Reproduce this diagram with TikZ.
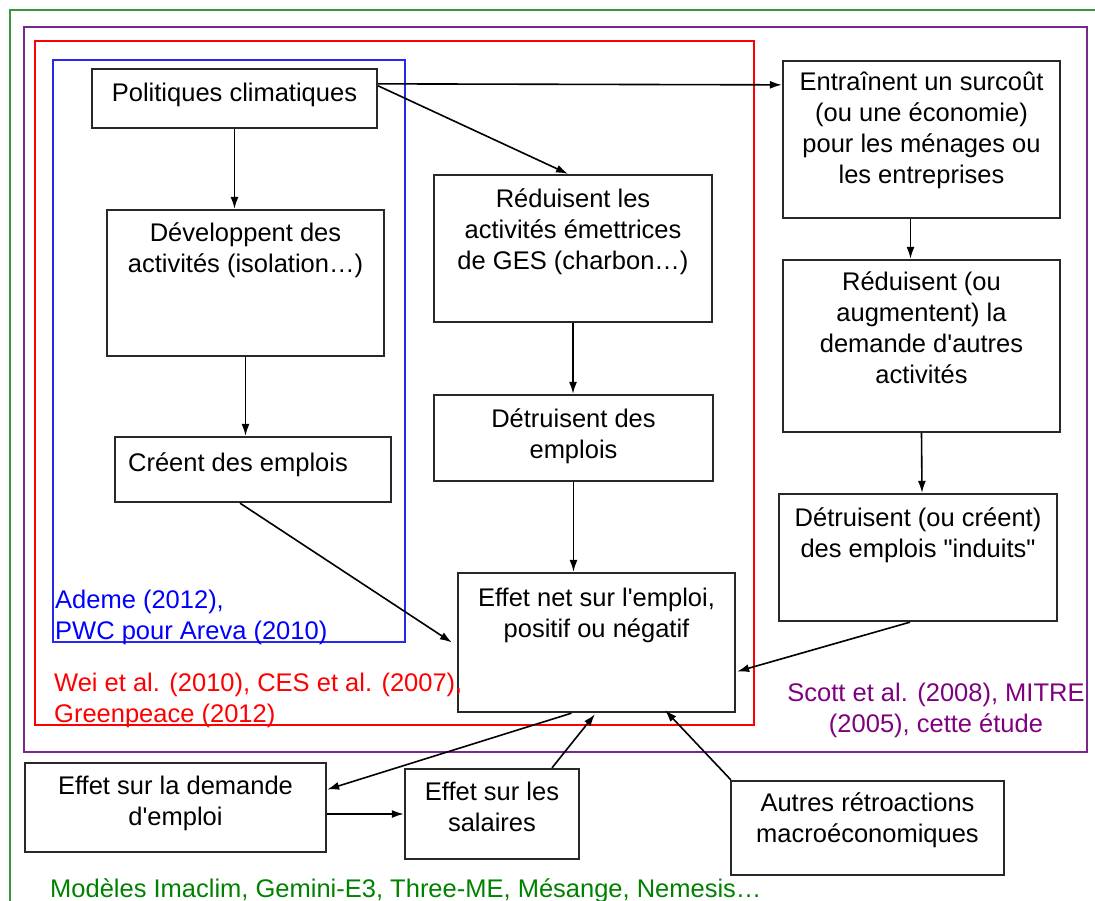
\documentclass[tikz,border=0pt]{standalone}
\usepackage{fontspec}
\setmainfont{Liberation Sans}
\usetikzlibrary{calc,arrows.meta}
\definecolor{cadre}{RGB}{40,40,40}
\definecolor{vertcadre}{RGB}{60,150,60}
\definecolor{verttexte}{RGB}{0,130,0}
\definecolor{violetcadre}{RGB}{120,40,140}
\definecolor{violettexte}{RGB}{128,0,128}
\definecolor{bleucadre}{RGB}{40,40,240}

\tikzset{
  boite/.style={draw=cadre, line width=2.3pt, inner sep=0pt},
  txt/.style={font=\fontsize{25.5}{31}\selectfont, align=center, anchor=north, inner sep=0pt,
    execute at begin node={\rule{0pt}{23pt}}},
  legende/.style={txt, anchor=north west, align=left},
  fl/.style={-{Latex[length=12pt,width=8pt]}, line width=1.6pt}
}

\begin{document}
\begin{tikzpicture}[x=1pt,y=-1pt]
		\useasboundingbox (0,0) rectangle (1095,900);
		\clip (0,0) rectangle (1095,900);
		% cadres
		\draw[vertcadre, line width=1.8pt] (10,10) rectangle (1120,930);
		\draw[violetcadre, line width=1.8pt] (24,27) rectangle (1087,752);
		\draw[red, line width=1.8pt] (35,41) rectangle (754,725);
		\draw[bleucadre, line width=1.8pt] (53,60) rectangle (405,642);
		% boites
		\node[boite, minimum width=285, minimum height=59] (pol) at (234.5,98.5) {};
		\node[boite, minimum width=277, minimum height=146] (dev) at (245.5,283) {};
		\node[boite, minimum width=276, minimum height=65] (cre) at (253,469.5) {};
		\node[boite, minimum width=278, minimum height=147] (red) at (573,248.5) {};
		\node[boite, minimum width=279, minimum height=86] (det) at (573.5,438) {};
		\node[boite, minimum width=277, minimum height=139] (net) at (596.5,642.5) {};
		\node[boite, minimum width=277, minimum height=157] (ent) at (921.5,139.5) {};
		\node[boite, minimum width=277, minimum height=172] (dem) at (921.5,346) {};
		\node[boite, minimum width=278, minimum height=127] (ind) at (918,557.5) {};
		\node[boite, minimum width=301, minimum height=89] (emp) at (175.5,807.5) {};
		\node[boite, minimum width=174, minimum height=90] (sal) at (492,814) {};
		\node[boite, minimum width=273, minimum height=94] (aut) at (867.5,828) {};
		% textes
		\node[txt] (polt) at (234.5,78) {Politiques climatiques};
		\node[txt] (devt) at (245.5,223) {Développent des\\activités (isolation…)};
		\node[txt] (cret) at (238,448) {Créent des emplois};
		\node[txt] (redt) at (573,189) {Réduisent les\\activités émettrices\\de GES (charbon…)};
		\node[txt] (dett) at (573.5,409) {Détruisent des\\emplois};
		\node[txt] (nett) at (596.5,588) {Effet net sur l\textquotesingle emploi,\\positif ou négatif};
		\node[txt] (entt) at (921.5,72) {Entraînent un surcoût\\(ou une économie)\\pour les ménages ou\\les entreprises};
		\node[txt] (demt) at (921.5,272) {Réduisent (ou\\augmentent) la\\demande d\textquotesingle autres\\activités};
		\node[txt] (indt) at (918,508) {Détruisent (ou créent)\\des emplois \textquotedbl induits\textquotedbl};
		\node[txt] (empt) at (175.5,776) {Effet sur la demande\\d\textquotesingle emploi};
		\node[txt] (salt) at (492,782) {Effet sur les\\salaires};
		\node[txt] (autt) at (867.5,793) {Autres rétroactions\\macroéconomiques};
		% legendes
		\node[legende, text=blue] (ademe) at (55,590) {Ademe (2012),\\PWC pour Areva (2010)};
		\node[legende, text=red] (wei) at (54,673) {Wei et al. (2010), CES et al. (2007),\\Greenpeace (2012)};
		\node[txt, text=violettexte] (scott) at (936,683) {Scott et al. (2008), MITRE\\(2005), cette étude};
		\node[legende, text=verttexte] (mod) at (50,874) {Modèles Imaclim, Gemini-E3, Three-ME, Mésange, Nemesis…};
		% fleches
		\draw[fl] ($(pol.north east)+(0,16)$) -- ($(ent.north west)+(0,25)$);
		\draw[fl] ($(pol.north east)+(0,18)$) -- ($(red.north)+(-5,0)$);
		\draw[fl] (pol.south) -- (pol.south |- dev.north);
		\draw[fl] (dev.south) -- (dev.south |- cre.north);
		\draw[fl] (red.south) -- (red.south |- det.north);
		\draw[fl] (det.south) -- (det.south |- net.north);
		\draw[fl] ($(cre.south)+(-13,0)$) -- ($(net.west)+(-5,0)$);
		\draw[fl] ($(ent.south)+(-11,0)$) -- ($(dem.north)+(-11,0)$);
		\draw[fl] (dem.south) -- ($(ind.north)+(4,0)$);
		\draw[fl] ($(ind.south)+(-8,0)$) -- ($(net.east)+(1,29)$);
		\draw[fl] ($(net.south)+(-25,0)$) -- ($(emp.east)+(0,-18)$);
		\draw[fl] ($(emp.east)+(0,6.5)$) -- (sal.west);
		\draw[fl] ($(sal.north)+(60,0)$) -- ($(net.south)+(-1.5,1)$);
		\draw[fl] ($(aut.north west)+(1,0)$) -- ($(net.south)+(68.5,-3)$);
\end{tikzpicture}
\end{document}
